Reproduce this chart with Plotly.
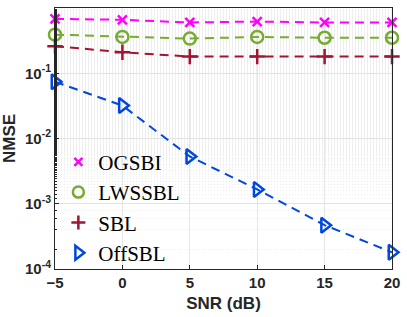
import plotly.graph_objects as go

snr = [-5, 0, 5, 10, 15, 20]
ogsbi = [0.68, 0.66, 0.60, 0.62, 0.60, 0.60]
lwssbl = [0.39, 0.36, 0.34, 0.36, 0.35, 0.35]
sbl = [0.26, 0.21, 0.18, 0.18, 0.18, 0.18]
offsbl = [0.074, 0.032, 0.0053, 0.00166, 0.00047, 0.00018]

ytickvals = [1e-4, 1e-3, 1e-2, 1e-1, 1e0]
yticktext = ["10<sup>-4</sup>", "10<sup>-3</sup>", "10<sup>-2</sup>", "10<sup>-1</sup>", "10<sup>0</sup>"]
xtickvals = [-5, 0, 5, 10, 15, 20]

series = [
    ("OGSBI", ogsbi, "#ff00ff", "x-thin-open", 9),
    ("LWSSBL", lwssbl, "#77ac30", "circle-open", 12),
    ("SBL", sbl, "#a2142f", "cross-thin-open", 11),
    ("OffSBL", offsbl, "#0047e0", "triangle-right-open", 13),
]

fig = go.Figure()
for name, vals, col, sym, sz in series:
    fig.add_trace(go.Scatter(
        x=snr, y=vals, name=name, mode="lines+markers", showlegend=False,
        cliponaxis=False,
        line=dict(color=col, width=2, dash="9px,6px"),
        marker=dict(symbol=sym, size=sz, color=col, line=dict(color=col, width=2.5)),
    ))
for name, vals, col, sym, sz in series:
    fig.add_trace(go.Scatter(
        x=[None], y=[None], name=name, mode="markers", showlegend=True,
        marker=dict(symbol=sym, size=sz - 1, color=col, line=dict(color=col, width=2.5)),
    ))

bold = dict(family="Liberation Sans, Arial", weight="bold", color="#262626")

fig.update_layout(
    width=407, height=317,
    margin=dict(l=55, r=9, t=7, b=48),
    plot_bgcolor="white", paper_bgcolor="white",
    font=dict(family="Liberation Sans, Arial", size=14, color="#262626"),
    showlegend=True,
    legend=dict(
        x=0.01, y=0.235, xanchor="left", yanchor="middle",
        bgcolor="rgba(255,255,255,0)", borderwidth=0,
        font=dict(family="Liberation Serif, Times New Roman", size=21, color="black"),
        itemsizing="trace", tracegroupgap=0, itemwidth=30,
    ),
    xaxis=dict(
        range=[-5, 20], tickvals=xtickvals,
        title=dict(text="SNR (dB)", standoff=7, font=dict(size=17, **bold)),
        tickfont=dict(size=15, **bold),
        showgrid=True, gridcolor="#e6e6e6", gridwidth=1,
        showline=True, linecolor="#262626", linewidth=1, mirror=True,
        ticks="inside", ticklen=4, tickcolor="#262626",
        zeroline=False,
    ),
    yaxis=dict(
        type="log", range=[-4, 0], tickvals=ytickvals, ticktext=yticktext,
        title=dict(text="NMSE", standoff=6, font=dict(size=17, **bold)),
        tickfont=dict(size=15, **bold),
        showgrid=True, gridcolor="#e3e3e3", gridwidth=1,
        showline=True, linecolor="#262626", linewidth=1, mirror=True,
        ticks="inside", ticklen=4, tickcolor="#262626",
        zeroline=False,
        minor=dict(showgrid=True, gridcolor="#eeeeee", griddash="1px,2px", gridwidth=1,
                   ticks="inside", ticklen=2, tickcolor="#262626"),
    ),
)

fig.write_html("out.html", config={"displayModeBar": False},
               post_script="document.body.style.margin='0';")
